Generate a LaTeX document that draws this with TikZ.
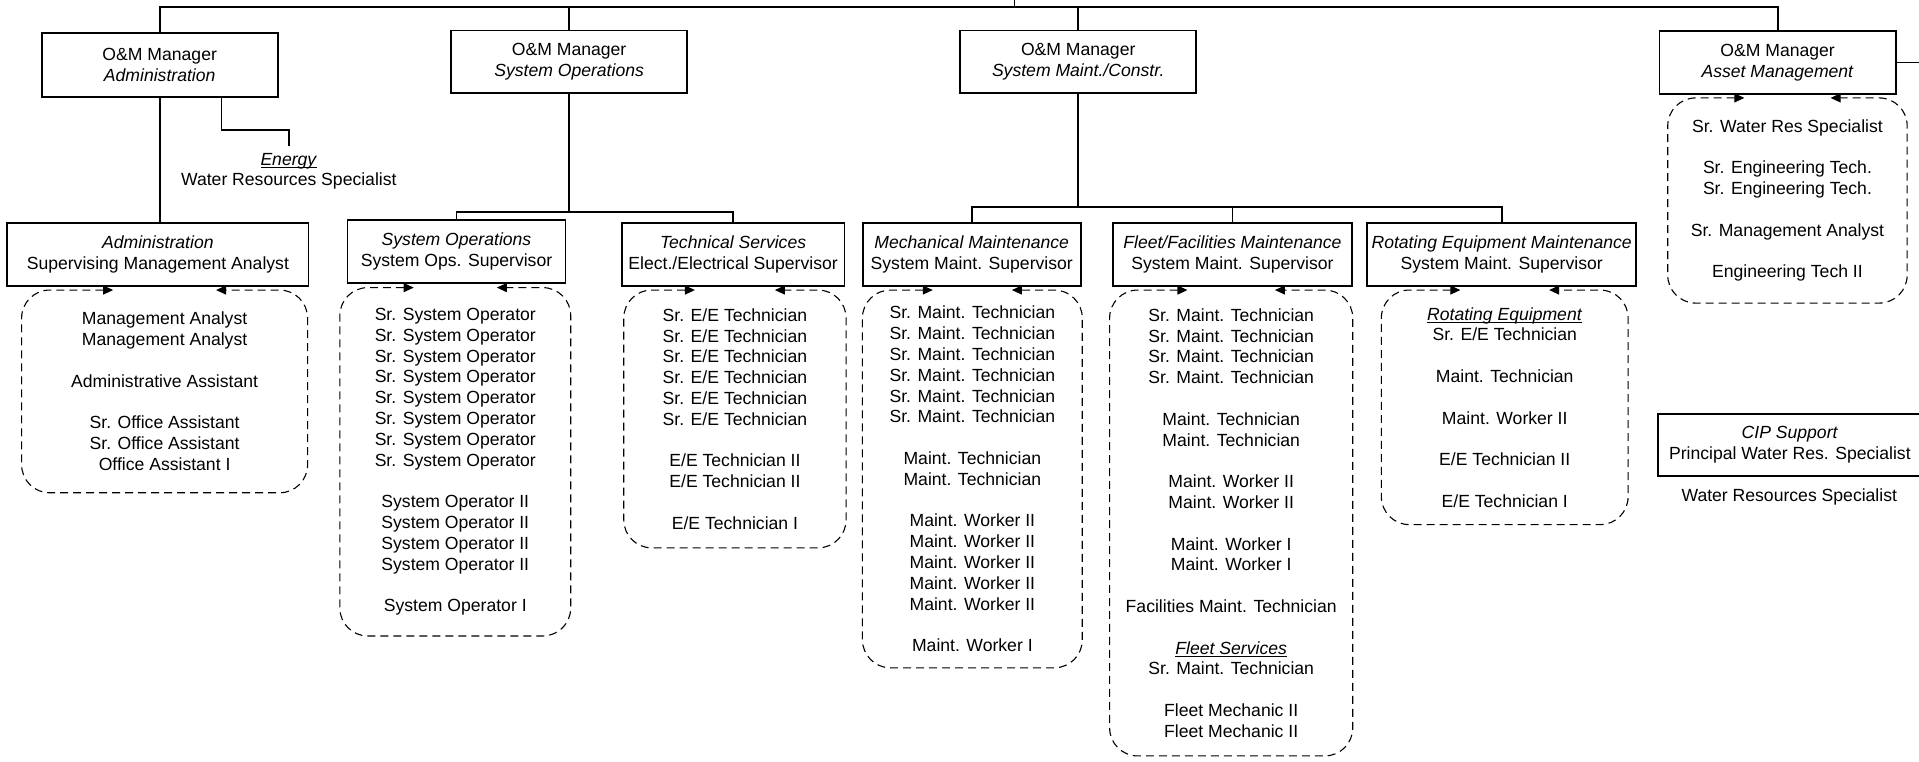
\documentclass[tikz,border=0pt]{standalone}
\usepackage{amsmath}
\usepackage{fontspec}
\setmainfont{Liberation Sans}
\usetikzlibrary{arrows.meta,calc}

\newdimen\dpx
\dpx=0.612pt
\newcommand{\unit}[1]{\underline{\smash[b]{\textit{#1}}}}

\tikzset{
  mgr/.style={draw, line width=0.9pt, minimum width=193*\dpx, minimum height=51*\dpx, align=center, inner sep=0pt},
  boss/.style={draw, line width=0.9pt, minimum height=52*\dpx, align=center, inner sep=0pt},
  crew/.style={align=center, inner sep=0pt, anchor=north},
  pool/.style={dash pattern=on 4pt off 2.5pt, line width=0.55pt, rounded corners=14pt,
    {Triangle[length=5pt,width=4.5pt]}-{Triangle[length=5pt,width=4.5pt]}},
  link/.style={line width=0.9pt}
}

\begin{document}
\begin{tikzpicture}[x=0.612pt, y=-0.612pt, font=\fontsize{8.8}{10.4}\selectfont]

  % Bounding box of the chart
  \useasboundingbox (0,0) rectangle (1568,622) ;

  %%%%%%%%%%%%%%%%%%%%%%%%%%%%%%%%% O&M managers %%%%%%%%%%%%%%%%%%%%%%%%%%%%%%%%%%%%
  \node[mgr, minimum height=52*\dpx] (admMgr) at (130.5,53) {O\&M Manager\\\textit{Administration}} ;
  \node[mgr] (sysMgr) at (465,50.5) {O\&M Manager\\\textit{System Operations}} ;
  \node[mgr] (mntMgr) at (881,50.5) {O\&M Manager\\\textit{System Maint./Constr.}} ;
  \node[mgr] (assetMgr) at (1452.5,51) {O\&M Manager\\\textit{Asset Management}} ;

  \coordinate (topBus) at (829,6) ;
  \coordinate (topUp) at (829,-5) ;
  \coordinate (offPage) at (1580,51) ;

  %%%%%%%%%%%%%%%%%%%%%%%%%%%%%%%%% Supervisors %%%%%%%%%%%%%%%%%%%%%%%%%%%%%%%%%%%%
  \node[boss, minimum width=246*\dpx] (admSup) at (129,208) {\textit{Administration}\\Supervising Management Analyst} ;
  \node[boss, minimum width=178*\dpx] (sysSup) at (373,205.5) {\textit{System Operations}\\System Ops. Supervisor} ;
  \node[boss, minimum width=182*\dpx] (techSup) at (599,208) {\textit{Technical Services}\\Elect./Electrical Supervisor} ;
  \node[boss, minimum width=178*\dpx] (mechSup) at (794,208) {\textit{Mechanical Maintenance}\\System Maint. Supervisor} ;
  \node[boss, minimum width=195*\dpx] (fleetSup) at (1007,208) {\textit{Fleet/Facilities Maintenance}\\System Maint. Supervisor} ;
  \node[boss, minimum width=220*\dpx] (rotSup) at (1227,208) {\textit{Rotating Equipment Maintenance}\\System Maint. Supervisor} ;
  \node[boss, minimum width=215*\dpx, minimum height=51*\dpx] (cipSup) at (1462.5,363.5) {\textit{CIP Support}\\Principal Water Res. Specialist} ;

  \node[align=center] (energy) at (236,140) {\unit{Energy}\\Water Resources Specialist} ;
  \node (cipStaff) at (1462,406) {Water Resources Specialist} ;

  \coordinate (sysBus) at (465,173) ;
  \coordinate (mntBus) at (881,169) ;

  %%%%%%%%%%%%%%%%%%%%%%%%%%%%%%%%% Staff pools %%%%%%%%%%%%%%%%%%%%%%%%%%%%%%%%%%%%
  \node[crew, minimum width=233*\dpx, minimum height=165*\dpx] (admStaff) at (134.5,237)
    {Management Analyst\\Management Analyst\\[\baselineskip]Administrative Assistant\\[\baselineskip]%
     Sr. Office Assistant\\Sr. Office Assistant\\Office Assistant I} ;
  \node[crew, minimum width=188*\dpx, minimum height=284*\dpx] (sysStaff) at (372,235)
    {Sr. System Operator\\Sr. System Operator\\Sr. System Operator\\Sr. System Operator\\%
     Sr. System Operator\\Sr. System Operator\\Sr. System Operator\\Sr. System Operator\\[\baselineskip]%
     System Operator II\\System Operator II\\System Operator II\\System Operator II\\[\baselineskip]%
     System Operator I} ;
  \node[crew, minimum width=181*\dpx, minimum height=210*\dpx] (techStaff) at (600.5,237)
    {Sr. E/E Technician\\Sr. E/E Technician\\Sr. E/E Technician\\Sr. E/E Technician\\%
     Sr. E/E Technician\\Sr. E/E Technician\\[\baselineskip]%
     E/E Technician II\\E/E Technician II\\[\baselineskip]E/E Technician I} ;
  \node[crew, minimum width=179*\dpx, minimum height=308*\dpx] (mechStaff) at (794.5,237)
    {Sr. Maint. Technician\\Sr. Maint. Technician\\Sr. Maint. Technician\\Sr. Maint. Technician\\%
     Sr. Maint. Technician\\Sr. Maint. Technician\\[\baselineskip]%
     Maint. Technician\\Maint. Technician\\[\baselineskip]%
     Maint. Worker II\\Maint. Worker II\\Maint. Worker II\\Maint. Worker II\\Maint. Worker II\\[\baselineskip]%
     Maint. Worker I} ;
  \node[crew, minimum width=198*\dpx, minimum height=380*\dpx] (fleetStaff) at (1006,237)
    {Sr. Maint. Technician\\Sr. Maint. Technician\\Sr. Maint. Technician\\Sr. Maint. Technician\\[\baselineskip]%
     Maint. Technician\\Maint. Technician\\[\baselineskip]%
     Maint. Worker II\\Maint. Worker II\\[\baselineskip]%
     Maint. Worker I\\Maint. Worker I\\[\baselineskip]%
     Facilities Maint. Technician\\[\baselineskip]%
     \unit{Fleet Services}\\Sr. Maint. Technician\\[\baselineskip]%
     Fleet Mechanic II\\Fleet Mechanic II} ;
  \node[crew, minimum width=201*\dpx, minimum height=191*\dpx] (rotStaff) at (1229.5,237)
    {\unit{Rotating Equipment}\\Sr. E/E Technician\\[\baselineskip]%
     Maint. Technician\\[\baselineskip]Maint. Worker II\\[\baselineskip]%
     E/E Technician II\\[\baselineskip]E/E Technician I} ;
  \node[crew, minimum width=195*\dpx, minimum height=167*\dpx] (assetStaff) at (1460.5,80)
    {Sr. Water Res Specialist\\[\baselineskip]%
     Sr. Engineering Tech.\\Sr. Engineering Tech.\\[\baselineskip]%
     Sr. Management Analyst\\[\baselineskip]Engineering Tech II} ;

  %%%%%%%%%%%%%%%%%%%%%%%%%%%%%%%%% Reporting lines %%%%%%%%%%%%%%%%%%%%%%%%%%%%%%%%%%%%
  \draw[link] (admMgr.north) |- (topBus) -| (assetMgr.north) ;
  \draw[link] (topBus) -- (topUp) ;
  \draw[link] (sysMgr.north) -- (sysMgr.north |- topBus) ;
  \draw[link] (mntMgr.north) -- (mntMgr.north |- topBus) ;
  \draw[link] (assetMgr.east) -- (offPage) ;

  \draw[link] (admMgr.south) -- (admMgr.south |- admSup.north) ;
  \draw[link] ($(admMgr.south west)!0.76!(admMgr.south east)$) |- ($(energy.north)+(0,-13)$) -- (energy.north) ;

  \draw[link] (sysMgr.south) -- (sysBus) ;
  \draw[link] (sysSup.north) |- (sysBus) -| (techSup.north) ;

  \draw[link] (mntMgr.south) -- (mntBus) ;
  \draw[link] (mechSup.north) |- (mntBus) -| (rotSup.north) ;
  \draw[link] (fleetSup.north) -- (fleetSup.north |- mntBus) ;

  % dashed pools hanging under their supervisor
  \foreach \s in {admStaff,sysStaff,techStaff,mechStaff,fleetStaff,rotStaff,assetStaff}
    \draw[pool] ($(\s.north west)!0.32!(\s.north east)$) -| (\s.south west) -| (\s.north east)
      -- ($(\s.north west)!0.68!(\s.north east)$) ;

\end{tikzpicture}
\end{document}
